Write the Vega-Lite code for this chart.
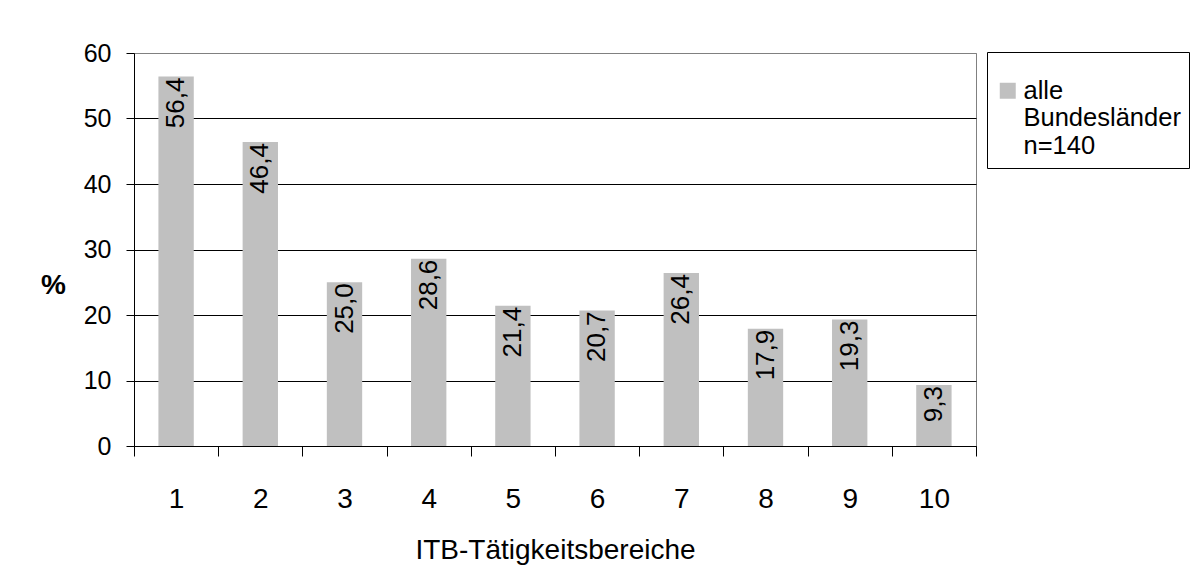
{
  "$schema": "https://vega.github.io/schema/vega-lite/v6.json",
  "width": 842,
  "height": 393,
  "autosize": {"type": "none"},
  "padding": {"left": 134, "top": 53, "right": 215, "bottom": 136},
  "background": "white",
  "config": {
    "font": "Liberation Sans",
    "view": {"stroke": "#808080", "strokeWidth": 1}
  },
  "data": {
    "values": [
      {"bereich": 1, "prozent": 56.4, "label": "56,4", "gruppe": "alle Bundesländer n=140"},
      {"bereich": 2, "prozent": 46.4, "label": "46,4", "gruppe": "alle Bundesländer n=140"},
      {"bereich": 3, "prozent": 25.0, "label": "25,0", "gruppe": "alle Bundesländer n=140"},
      {"bereich": 4, "prozent": 28.6, "label": "28,6", "gruppe": "alle Bundesländer n=140"},
      {"bereich": 5, "prozent": 21.4, "label": "21,4", "gruppe": "alle Bundesländer n=140"},
      {"bereich": 6, "prozent": 20.7, "label": "20,7", "gruppe": "alle Bundesländer n=140"},
      {"bereich": 7, "prozent": 26.4, "label": "26,4", "gruppe": "alle Bundesländer n=140"},
      {"bereich": 8, "prozent": 17.9, "label": "17,9", "gruppe": "alle Bundesländer n=140"},
      {"bereich": 9, "prozent": 19.3, "label": "19,3", "gruppe": "alle Bundesländer n=140"},
      {"bereich": 10, "prozent": 9.3, "label": "9,3", "gruppe": "alle Bundesländer n=140"}
    ]
  },
  "encoding": {
    "x": {
      "field": "bereich",
      "type": "ordinal",
      "scale": {"paddingInner": 0, "paddingOuter": 0},
      "axis": {
        "tickBand": "extent",
        "labelAngle": 0,
        "labelFontSize": 28,
        "labelColor": "black",
        "labelPadding": 29,
        "tickSize": 10,
        "tickColor": "black",
        "domainColor": "black",
        "grid": false,
        "title": "ITB-Tätigkeitsbereiche",
        "titleFontSize": 28,
        "titleFontWeight": "normal",
        "titleColor": "black",
        "titleY": 112,
        "titleBaseline": "alphabetic"
      }
    },
    "y": {
      "field": "prozent",
      "type": "quantitative",
      "scale": {"domain": [0, 60], "nice": false},
      "axis": {
        "values": [0, 10, 20, 30, 40, 50, 60],
        "labelFontSize": 25,
        "labelColor": "black",
        "labelPadding": 15,
        "tickSize": 8,
        "tickColor": "black",
        "domainColor": "black",
        "grid": true,
        "gridColor": {"condition": {"test": "datum.value === 60", "value": "#808080"}, "value": "black"},
        "title": "%",
        "titleAngle": 0,
        "titleFontSize": 28,
        "titleFontWeight": "bold",
        "titleColor": "black",
        "titleX": -81,
        "titleY": 232,
        "titleAlign": "center",
        "titleBaseline": "middle"
      }
    }
  },
  "layer": [
    {
      "mark": {"type": "bar", "width": {"band": 0.42}},
      "encoding": {
        "color": {
          "field": "gruppe",
          "type": "nominal",
          "scale": {"range": ["#c0c0c0"]},
          "legend": {
            "orient": "none",
            "legendX": 853,
            "legendY": -1,
            "title": " ",
            "titleFontSize": 14,
            "titlePadding": 4,
            "strokeColor": "black",
            "padding": 8,
            "symbolType": "square",
            "symbolSize": 256,
            "symbolStrokeWidth": 0,
            "labelFontSize": 25.5,
            "labelColor": "black",
            "labelLimit": 400,
            "labelOffset": 3,
            "labelBaseline": "middle",
            "labelExpr": "['alle', 'Bundesländer', 'n=140']"
          }
        }
      }
    },
    {
      "mark": {"type": "text", "angle": 270, "align": "right", "baseline": "middle", "fontSize": 26, "color": "black", "dx": -1},
      "encoding": {
        "text": {"field": "label"}
      }
    }
  ]
}
